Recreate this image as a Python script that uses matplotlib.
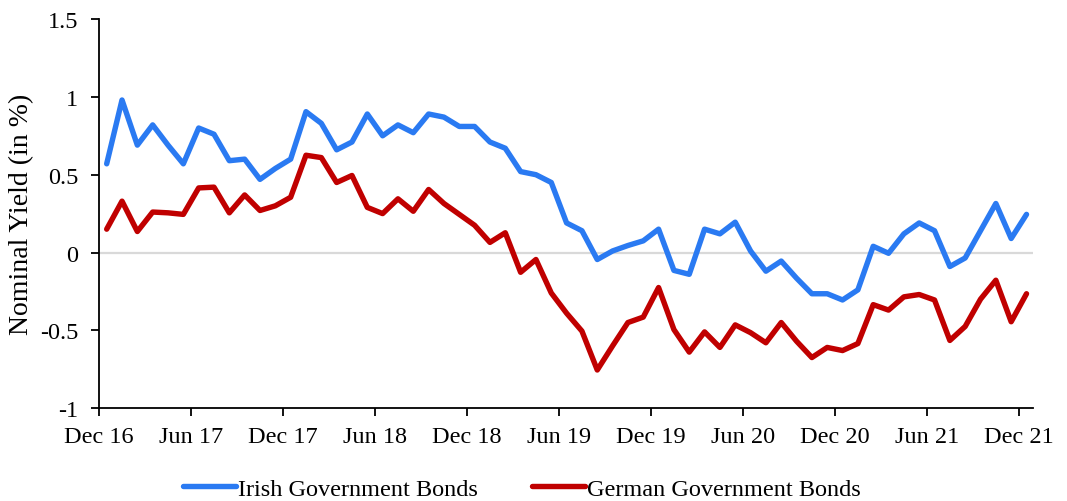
import matplotlib
matplotlib.use("Agg")
import matplotlib.pyplot as plt
import numpy as np

# Monthly nominal 10-year yields (%), Dec 2016 .. Dec 2021
irish = [0.57, 0.98, 0.69, 0.82, 0.69, 0.57, 0.80, 0.76, 0.59, 0.60, 0.47, 0.54,
         0.60, 0.905, 0.83, 0.66, 0.71, 0.89, 0.75, 0.82, 0.77, 0.89, 0.87, 0.81,
         0.81, 0.71, 0.67, 0.52, 0.50, 0.45, 0.19, 0.14, -0.045, 0.01, 0.045, 0.075,
         0.15, -0.115, -0.14, 0.15, 0.12, 0.195, 0.01, -0.12, -0.055, -0.165, -0.265,
         -0.265, -0.305, -0.24, 0.04, -0.005, 0.12, 0.19, 0.14, -0.09, -0.035, 0.14,
         0.315, 0.09, 0.245]
german = [0.15, 0.33, 0.135, 0.26, 0.255, 0.245, 0.415, 0.42, 0.255, 0.37, 0.27, 0.30,
          0.355, 0.625, 0.61, 0.45, 0.495, 0.29, 0.25, 0.345, 0.265, 0.405, 0.315, 0.245,
          0.175, 0.065, 0.127, -0.127, -0.045, -0.26, -0.39, -0.505, -0.755, -0.60, -0.45,
          -0.415, -0.225, -0.495, -0.64, -0.51, -0.61, -0.465, -0.515, -0.58, -0.45, -0.57,
          -0.675, -0.61, -0.63, -0.585, -0.335, -0.37, -0.285, -0.27, -0.305, -0.565,
          -0.475, -0.30, -0.178, -0.445, -0.265]
tick_labels = ["Dec 16", "Jun 17", "Dec 17", "Jun 18", "Dec 18", "Jun 19",
               "Dec 19", "Jun 20", "Dec 20", "Jun 21", "Dec 21"]
series_names = ["Irish Government Bonds", "German Government Bonds"]

plt.rcParams["font.family"] = ["Liberation Serif", "DejaVu Serif"]

BLUE = "#2A7AF2"
RED = "#C00000"
FS = 17.5

fig = plt.figure(figsize=(10.67, 5.02), dpi=100)
ax = fig.add_axes([0.0928, 0.185, 0.875, 0.775])

months = np.arange(len(irish)) + 0.5
ax.axhline(0, color="#d9d9d9", lw=1.6, zorder=1)
ax.plot(months, irish, color=BLUE, lw=3.9, solid_joinstyle="round",
        solid_capstyle="round", label=series_names[0], zorder=3)
ax.plot(months, german, color=RED, lw=3.9, solid_joinstyle="round",
        solid_capstyle="round", label=series_names[1], zorder=3)

ax.set_xlim(0, 60.9)
ax.set_ylim(-1, 1.5)
ax.set_xticks(np.arange(0, 61, 6))
ax.set_xticklabels(tick_labels)
ax.set_yticks([-1, -0.5, 0, 0.5, 1, 1.5])
ax.set_yticklabels(["-1", "-0.5", "0", "0.5", "1", "1.5"])

for s in ("top", "right"):
    ax.spines[s].set_visible(False)
for s in ("left", "bottom"):
    ax.spines[s].set_linewidth(1.3)
    ax.spines[s].set_color("#000000")

ax.tick_params(axis="x", direction="out", length=6, width=1.3, pad=7, labelsize=FS)
ax.tick_params(axis="y", direction="out", length=6, width=1.3, pad=9, labelsize=FS)

ax.set_ylabel("Nominal Yield (in %)", fontsize=20, labelpad=4)

fig.legend(loc="center", bbox_to_anchor=(0.489, 0.024), ncol=2, frameon=False,
           fontsize=FS, handlelength=2.2, handletextpad=0.08, columnspacing=2.2)

fig.savefig("out.png", dpi=100)
